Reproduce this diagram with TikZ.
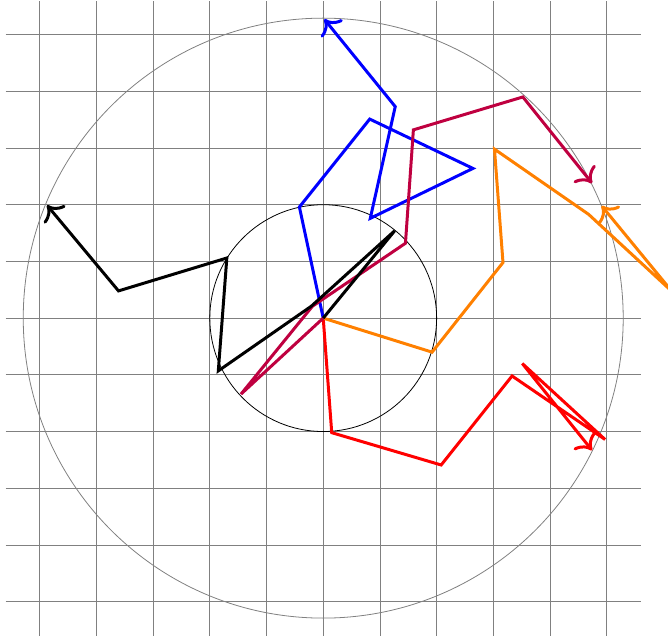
\documentclass[tikz,border=0pt]{standalone}
\usetikzlibrary{arrows.meta}
\begin{document}
\begin{tikzpicture}[walk/.style={line width=1.5pt,-{To[scale=1.35]}}]
\useasboundingbox (-5.70,-5.68) rectangle (6.08,5.61);
\draw[gray] (-5.6,-5.6) grid (5.6,5.6);
\draw[gray] (0,0) circle (5.29);
\draw (0,0) circle (2);
\coordinate (o) at (0,0);
% blue
\coordinate (b1) at (-0.42,1.96);
\coordinate (b2) at (0.82,3.51);
\coordinate (b3) at (2.64,2.64);
\coordinate (b4) at (0.83,1.76);
\coordinate (b5) at (1.27,3.73);
\coordinate (b6) at (0.02,5.27);
% red
\coordinate (r1) at (0.15,-2.02);
\coordinate (r2) at (2.08,-2.59);
\coordinate (r3) at (3.33,-1.02);
\coordinate (r4) at (4.97,-2.14);
\coordinate (r5) at (3.51,-0.80);
\coordinate (r6) at (4.74,-2.33);
% orange
\coordinate (g1) at (1.92,-0.60);
\coordinate (g2) at (3.17,0.98);
\coordinate (g3) at (3.02,2.98);
\coordinate (g4) at (4.68,1.83);
\coordinate (g5) at (6.15,0.47);
\coordinate (g6) at (4.91,1.98);
% purple
\coordinate (p1) at (-1.45,-1.34);
\coordinate (p2) at (-0.19,0.21);
\coordinate (p3) at (1.45,1.32);
\coordinate (p4) at (1.59,3.32);
\coordinate (p5) at (3.52,3.90);
\coordinate (p6) at (4.74,2.38);
% black
\coordinate (k1) at (1.26,1.54);
\coordinate (k2) at (-0.21,0.21);
\coordinate (k3) at (-1.85,-0.93);
\coordinate (k4) at (-1.70,1.06);
\coordinate (k5) at (-3.61,0.48);
\coordinate (k6) at (-4.87,1.99);
\draw[walk,blue] (o) -- (b1) -- (b2) -- (b3) -- (b4) -- (b5) -- (b6);
\draw[walk,red] (o) -- (r1) -- (r2) -- (r3) -- (r4) -- (r5) -- (r6);
\draw[walk,orange] (o) -- (g1) -- (g2) -- (g3) -- (g4) -- (g5) -- (g6);
\draw[walk,purple] (o) -- (p1) -- (p2) -- (p3) -- (p4) -- (p5) -- (p6);
\draw[walk,black] (o) -- (k1) -- (k2) -- (k3) -- (k4) -- (k5) -- (k6);
\end{tikzpicture}
\end{document}
